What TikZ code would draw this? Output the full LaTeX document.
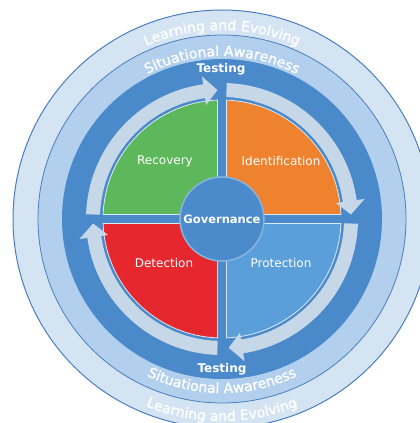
\documentclass[tikz,border=0pt]{standalone}
\usepackage{fontspec}
\setmainfont{DejaVu Sans}
\newfontfamily\ringfamily[FakeBold=1.2]{DejaVu Sans}
\usetikzlibrary{decorations.text}
\definecolor{outerring}{HTML}{D4E4F3}
\definecolor{midring}{HTML}{B2D0EE}
\definecolor{darkring}{HTML}{4A89CA}
\definecolor{bandcol}{HTML}{C6D7E8}
\definecolor{edgecol}{HTML}{4A7EBD}
\definecolor{qgreen}{HTML}{5CB85B}
\definecolor{qorange}{HTML}{EF822F}
\definecolor{qred}{HTML}{E6282E}
\definecolor{qblue}{HTML}{5A9EDA}
\definecolor{govcol}{HTML}{4B8BCB}
\definecolor{govedge}{HTML}{86B4DF}
\definecolor{qedge}{HTML}{DCE8F3}
\newcommand\ringfont{\ringfamily\fontsize{14}{15}\selectfont}
\newcommand\cwarrow[2]{%
  \fill[bandcol] (#1:122) arc[start angle=#1, end angle={#2+6}, radius=122]
    -- ({#2+6}:115) -- (#2:129) -- ({#2+6}:144) -- ({#2+6}:136)
    arc[start angle={#2+6}, end angle=#1, radius=136] -- cycle;}
\tikzset{
  quad/.style={draw=qedge, line width=0.8pt},
  qlabel/.style={text=white, font=\fontsize{12}{13}\selectfont},
  testlabel/.style={text=white, font=\bfseries\fontsize{12}{13}\selectfont},
  ringtext/.style={decorate, decoration={text along path, text align=center, text color=white, text={|\ringfont|#1}}}
}
\begin{document}
\begin{tikzpicture}[x=1pt,y=1pt]
\useasboundingbox (0,0) rectangle (420,423);
\clip (0,0) rectangle (420,423);
\fill[white] (0,0) rectangle (420,423);
\begin{scope}[shift={(222,204)}]
  \fill[outerring, draw=edgecol, line width=1pt] (0,0) circle (209);
  \fill[midring, draw=edgecol, line width=0.8pt] (0,0) circle (184);
  \fill[darkring] (0,0) circle (160);
  % quadrants
  \fill[qgreen, quad] (-4.5,4.5) -- (92.17:119) arc[start angle=92.17, end angle=177.83, radius=119] -- cycle;
  \fill[qorange, quad] (4.5,4.5) -- (2.17:119) arc[start angle=2.17, end angle=87.83, radius=119] -- cycle;
  \fill[qblue, quad] (4.5,-4.5) -- (-87.83:119) arc[start angle=-87.83, end angle=-2.17, radius=119] -- cycle;
  \fill[qred, quad] (-4.5,-4.5) -- (182.17:119) arc[start angle=182.17, end angle=267.83, radius=119] -- cycle;
  % cycle arrows
  \cwarrow{178}{92}
  \cwarrow{88}{2}
  \cwarrow{-2}{-87}
  \cwarrow{268}{182}
  % centre
  \node[circle, fill=govcol, draw=govedge, line width=1.5pt, minimum size=84pt, inner sep=0pt,
        text=white, font=\bfseries\fontsize{11.5}{12}\selectfont] (gov) at (0,0) {Governance};
  \node[qlabel] (rec) at (-57,58) {Recovery};
  \node[qlabel] (ide) at (59,58) {Identification};
  \node[qlabel] (det) at (-58,-44) {Detection};
  \node[qlabel] (pro) at (59,-44) {Protection};
  \node[testlabel] (ttop) at (-1,149.5) {Testing};
  \node[testlabel] (tbot) at (0,-150) {Testing};
  % ring texts
  \path[ringtext={Situational Awareness}] (160:163) arc[start angle=160, end angle=20, radius=163];
  \path[ringtext={Situational Awareness}] (200:174) arc[start angle=200, end angle=340, radius=174];
  \path[ringtext={Learning and Evolving}] (160:189) arc[start angle=160, end angle=20, radius=189];
  \path[ringtext={Learning and Evolving}] (200:202) arc[start angle=200, end angle=340, radius=202];
\end{scope}
\end{tikzpicture}
\end{document}
